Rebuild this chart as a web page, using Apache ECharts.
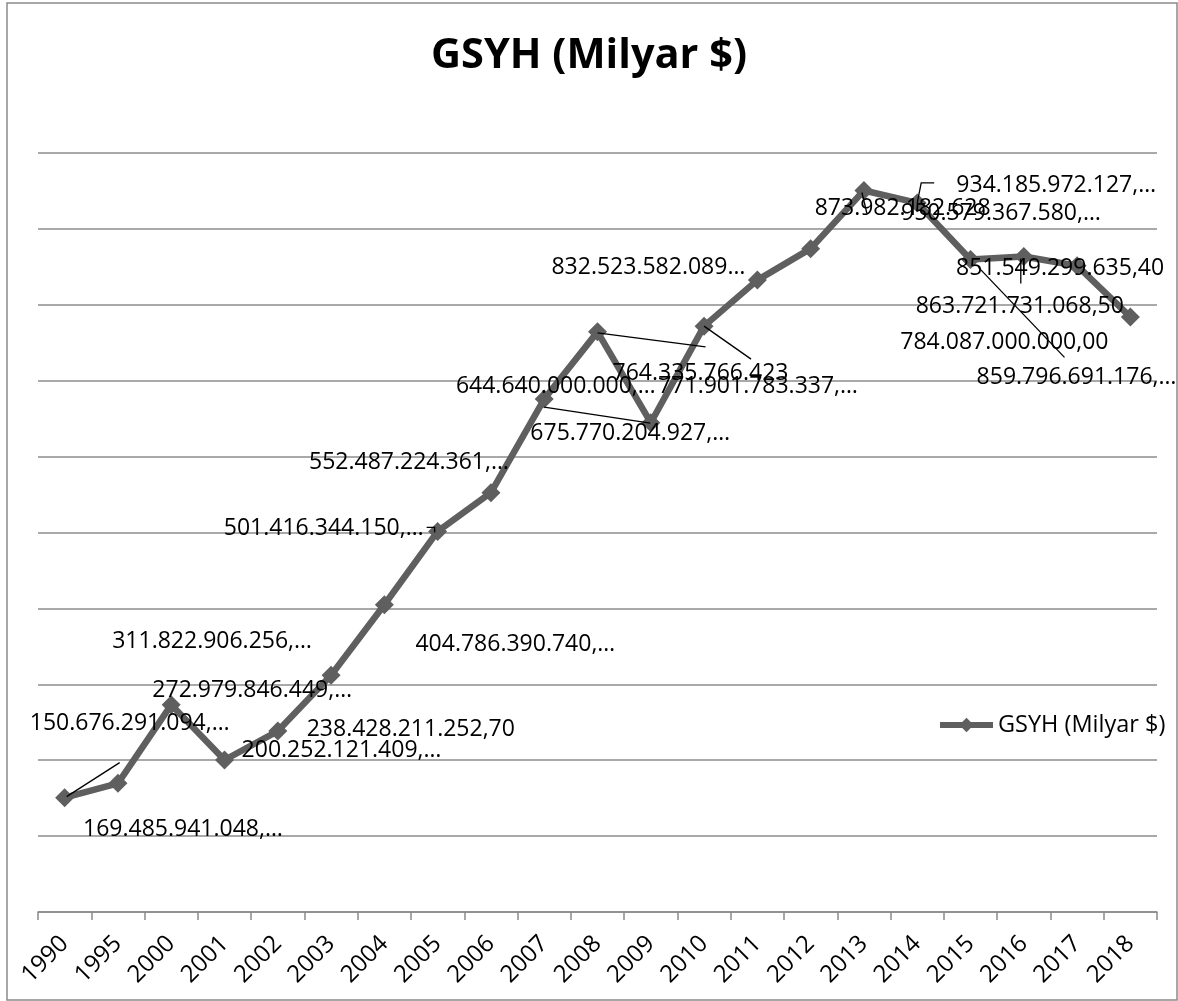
<!DOCTYPE html>
<html>
<head>
<meta charset="utf-8">
<script src="https://cdn.jsdelivr.net/npm/echarts@6/dist/echarts.min.js"></script>
<style>
  html, body { margin: 0; padding: 0; background: #fff; }
  #chart { width: 1178px; height: 1001px; }
</style>
</head>
<body>
<div id="chart"></div>
<script>
var years = ['1990', '1995', '2000', '2001', '2002', '2003', '2004', '2005', '2006', '2007', '2008',
	'2009', '2010', '2011', '2012', '2013', '2014', '2015', '2016', '2017', '2018'];

// GSYH ($)
var gdp = [150676291094, 169485941048, 272979846449, 200252121409, 238428211252.70, 311822906256,
	404786390740, 501416344150, 552487224361, 675770204927, 764335766423, 644640000000,
	771901783337, 832523582089, 873982182628, 950579367580, 934185972127, 859796691176,
	863721731068.50, 851549299635.40, 784087000000.00];

// label text as it shows in the picture (truncated ones keep the ellipsis)
var labelTexts = ['150.676.291.094,…', '169.485.941.048,…', '272.979.846.449,…', '200.252.121.409,…',
	'238.428.211.252,70', '311.822.906.256,…', '404.786.390.740,…', '501.416.344.150,…',
	'552.487.224.361,…', '675.770.204.927,…', '764.335.766.423', '644.640.000.000,…',
	'771.901.783.337,…', '832.523.582.089…', '873.982.182.628', '950.579.367.580,…',
	'934.185.972.127,…', '859.796.691.176,…', '863.721.731.068,50', '851.549.299.635,40',
	'784.087.000.000,00'];

var yTicks = { min: 0, max: 1000000000000, interval: 100000000000 };

// where each label sits relative to its point (px)
var labelShift = [[65, -74], [65, 46], [81, -14], [117, -10], [133, -2], [-119, -34], [131, 40],
	[-114, -3], [-82, -30], [86, 34], [103, 42], [-95, -36], [54, 60], [-109, -13], [92, -40],
	[137, 23], [139, -17], [106, 118], [-4, 50], [-17, 3], [-126, 26]];

// leader lines (relative to the point), only where the picture has them
var leaderIdx = [0, 7, 9, 10, 12, 15, 16, 17, 18];
var leaderPath = {
	0: [[2, -1], [55, -35]],
	7: [[-11, -4], [-3, -4], [-3, 1]],
	9: [[0, 8], [106, 24]],
	10: [[0, 1], [108, 15]],
	12: [[0, 0], [47, 33]],
	15: [[-2, 2], [3, 23]],
	16: [[0, 0], [4, -20], [17, -20]],
	17: [[8, 8], [94, 98]],
	18: [[-3, 2], [-3, 27]]
};

var dom = document.getElementById('chart');
var myChart = echarts.init(dom);

var option = {
	animation: false,
	title: {
		text: 'GSYH (Milyar $)',
		left: 'center',
		top: 30,
		textStyle: {
			fontFamily: 'Open Sans',
			fontWeight: 'bold',
			fontSize: 41.5,
			color: '#000'
		}
	},
	legend: {
		data: ['GSYH (Milyar $)'],
		orient: 'vertical',
		left: 932,
		top: 708,
		itemWidth: 53,
		itemHeight: 18,
		lineStyle: { width: 6 },
		textStyle: {
			fontFamily: 'Open Sans',
			fontSize: 23.5,
			color: '#000'
		}
	},
	grid: {
		left: 38,
		right: 21,
		top: 153,
		bottom: 89
	},
	xAxis: {
		type: 'category',
		data: years,
		boundaryGap: true,
		axisLine: { lineStyle: { color: '#8a8a8a', width: 1.5 } },
		axisTick: { show: true, length: 8, lineStyle: { color: '#8a8a8a', width: 1.5 } },
		axisLabel: {
			interval: 0,
			rotate: 45,
			margin: 28,
			fontFamily: 'Open Sans',
			fontSize: 24,
			color: '#000'
		},
		splitLine: { show: false }
	},
	yAxis: {
		type: 'value',
		min: yTicks.min,
		max: yTicks.max,
		interval: yTicks.interval,
		axisLine: { show: false },
		axisTick: { show: false },
		axisLabel: { show: false },
		splitLine: { lineStyle: { color: '#8c8c8c', width: 1.5 } }
	},
	series: [
		{
			name: 'GSYH (Milyar $)',
			type: 'line',
			data: gdp,
			symbol: 'diamond',
			symbolSize: 19,
			lineStyle: { color: '#5f5f5f', width: 6.5 },
			itemStyle: { color: '#5f5f5f' },
			label: {
				show: true,
				position: 'inside',
				fontFamily: 'Open Sans',
				fontSize: 23,
				color: '#000',
				formatter: function (p) { return labelTexts[p.dataIndex]; }
			},
			labelLayout: function (p) {
				return { dx: labelShift[p.dataIndex][0], dy: labelShift[p.dataIndex][1] };
			},
			z: 3
		},
		{
			// leader lines of the data labels
			name: 'leaders',
			type: 'custom',
			data: leaderIdx.map(function (i) { return [i, gdp[i]]; }),
			encode: { x: 0, y: 1 },
			silent: true,
			z: 4,
			renderItem: function (params, api) {
				var i = api.value(0);
				var pt = api.coord([i, api.value(1)]);
				var pts = leaderPath[i].map(function (d) { return [pt[0] + d[0], pt[1] + d[1]]; });
				return {
					type: 'polyline',
					shape: { points: pts },
					style: { stroke: '#000', lineWidth: 1.3, fill: null }
				};
			}
		}
	],
	graphic: [
		{
			type: 'rect',
			shape: { x: 7, y: 3, width: 1170, height: 997 },
			style: { fill: 'none', stroke: '#8a8a8a', lineWidth: 1.5 },
			silent: true
		}
	]
};

myChart.setOption(option);
</script>
</body>
</html>
